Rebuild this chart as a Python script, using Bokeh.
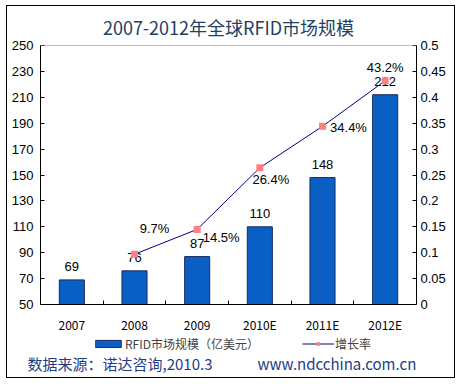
import numpy as np
from bokeh.plotting import figure
from bokeh.models import (ColumnDataSource, Range1d, LinearAxis, FixedTicker,
                          Legend, LegendItem, Title, Span)
from bokeh.core.properties import value
from bokeh.embed import file_html
from bokeh.resources import INLINE

# ---------------- data ----------------
years = ["2007", "2008", "2009", "2010E", "2011E", "2012E"]
market = [69, 76, 87, 110, 148, 212]              # 亿美元
rate_years = ["2008", "2009", "2010E", "2011E", "2012E"]
rate = [0.097, 0.145, 0.264, 0.344, 0.432]
rate_labels = ["9.7%", "14.5%", "26.4%", "34.4%", "43.2%"]
left_ticks = [50, 70, 90, 110, 130, 150, 170, 190, 210, 230, 250]
right_ticks = [0, 0.05, 0.1, 0.15, 0.2, 0.25, 0.3, 0.35, 0.4, 0.45, 0.5]
right_tick_labels = ["0", "0.05", "0.1", "0.15", "0.2", "0.25", "0.3",
                     "0.35", "0.4", "0.45", "0.5"]

title_text = "2007-2012年全球RFID市场规模"
source_text = "数据来源：诺达咨询,2010.3"
site_text = "www.ndcchina.com.cn"
bar_legend = "RFID市场规模（亿美元）"
line_legend = "增长率"

# label placement (screen px offsets of the rate labels from their markers)
rate_dx = [20, 24, 11, 26, 0]
rate_dy = [-26, 8, 12, 1, -13]

# ---------------- layout (px) ----------------
FIG_W, FIG_H = 447, 371
TOP, BOTTOM, LEFT, RIGHT = 39, 25, 33, 38
PLOT_H = 259                      # pixel height of the 50..250 value band
FRAME_H = FIG_H - TOP - BOTTOM

y_lo, y_hi = left_ticks[0], left_ticks[-1]
r_lo, r_hi = right_ticks[0], right_ticks[-1]
span_units = (y_hi - y_lo) * FRAME_H / PLOT_H
y_start = y_hi - span_units
r_start = r_lo + (y_start - y_lo) * (r_hi - r_lo) / (y_hi - y_lo)

# ---------------- build ----------------
pos = {y: i + 1 for i, y in enumerate(years)}
bx = [pos[y] for y in years]
lx = [pos[y] for y in rate_years]

bar_src = ColumnDataSource(dict(x=bx, v=market, t=[str(v) for v in market]))
rate_src = ColumnDataSource(dict(x=lx, r=rate, t=rate_labels, dx=rate_dx, dy=rate_dy))

p = figure(width=FIG_W, height=FIG_H, output_backend="svg", toolbar_location=None,
           x_range=Range1d(0.5, len(years) + 0.5), y_range=Range1d(y_start, y_hi),
           min_border_left=LEFT, min_border_right=RIGHT, min_border_top=TOP,
           min_border_bottom=BOTTOM, margin=(6, 0, 0, 7),
           styles={"outline": "1px solid black"})
p.extra_y_ranges = {"rate": Range1d(r_start, r_hi)}
p.xgrid.visible = False
p.ygrid.visible = False
p.outline_line_color = None
p.background_fill_color = "white"
p.border_fill_color = "white"
p.add_layout(Span(location=y_hi, dimension="width", line_color="#808080", line_width=1))

p.title.text = title_text
p.title.align = "center"
p.title.offset = 14
p.title.standoff = 11
p.title.text_font = "Noto Sans CJK SC"
p.title.text_font_size = "18px"
p.title.text_font_style = "normal"
p.title.text_color = "#243F60"

bars = p.vbar(x="x", top="v", bottom=y_lo, width=0.4, source=bar_src,
              fill_color="#0A5FC4", line_color="#1A2A60", line_width=1)
p.text(x="x", y="v", text="t", source=bar_src, text_align="center",
       text_baseline="middle", y_offset=-13, text_font=value("Liberation Sans"),
       text_font_size="13px", text_color="black")

line = p.line(x="x", y="r", source=rate_src, y_range_name="rate",
              line_color="#000080", line_width=1)
marks = p.scatter(x="x", y="r", source=rate_src, y_range_name="rate",
                  marker="square", size=7, fill_color="#FF8080", line_color=None)
p.text(x="x", y="r", text="t", source=rate_src, y_range_name="rate",
       x_offset="dx", y_offset="dy", text_align="center", text_baseline="middle",
       text_font=value("Liberation Sans"), text_font_size="13px", text_color="black")

# axes
xa = p.xaxis[0]
xa.fixed_location = y_lo
xa.ticker = FixedTicker(ticks=bx, minor_ticks=[i + 0.5 for i in range(1, len(years))])
xa.major_label_overrides = {pos[y]: y for y in years}
xa.major_tick_in = 0
xa.major_tick_out = 0
xa.minor_tick_in = 4
xa.minor_tick_out = 0
xa.axis_line_color = "black"
xa.minor_tick_line_color = "black"
xa.major_label_standoff = 11
xa.major_label_text_font = "Noto Sans CJK SC"
xa.major_label_text_font_size = "12px"
xa.major_label_text_color = "black"

ya = p.yaxis[0]
ya.bounds = (y_lo, y_hi)
ya.ticker = FixedTicker(ticks=left_ticks)
ya.major_tick_in = 4
ya.major_tick_out = 0
ya.minor_tick_line_color = None
ya.axis_line_color = "black"
ya.major_label_standoff = 7
ya.major_label_text_font = "Liberation Sans"
ya.major_label_text_font_size = "13px"
ya.major_label_text_color = "black"

ra = LinearAxis(y_range_name="rate", ticker=FixedTicker(ticks=right_ticks),
                major_label_overrides=dict(zip(right_ticks, right_tick_labels)),
                bounds=(r_lo, r_hi))
ra.major_tick_in = 4
ra.major_tick_out = 0
ra.minor_tick_line_color = None
ra.axis_line_color = "black"
ra.major_label_standoff = 4
ra.major_label_text_font = "Liberation Sans"
ra.major_label_text_font_size = "13px"
ra.major_label_text_color = "black"
p.add_layout(ra, "right")

# legend (inside the frame, under the category labels)
leg = Legend(items=[LegendItem(label=bar_legend, renderers=[bars]),
                    LegendItem(label=line_legend, renderers=[line, marks])],
             location=(52, 0), orientation="horizontal", glyph_width=32,
             glyph_height=9, label_standoff=1, spacing=43, padding=0, margin=0,
             border_line_color=None, background_fill_alpha=0,
             label_text_font="Noto Sans CJK SC", label_text_font_size="12px",
             label_height=14)
p.add_layout(leg)

gap = "\u3000\u3000\u3000"
footer = Title(text=source_text + gap + site_text, align="left", offset=-13,
               standoff=0, vertical_align="top", text_font="Noto Sans CJK SC",
               text_font_size="15px", text_font_style="normal", text_color="#1F3C88")
p.add_layout(footer, "below")

open("out.html", "w").write(file_html(p, INLINE))
